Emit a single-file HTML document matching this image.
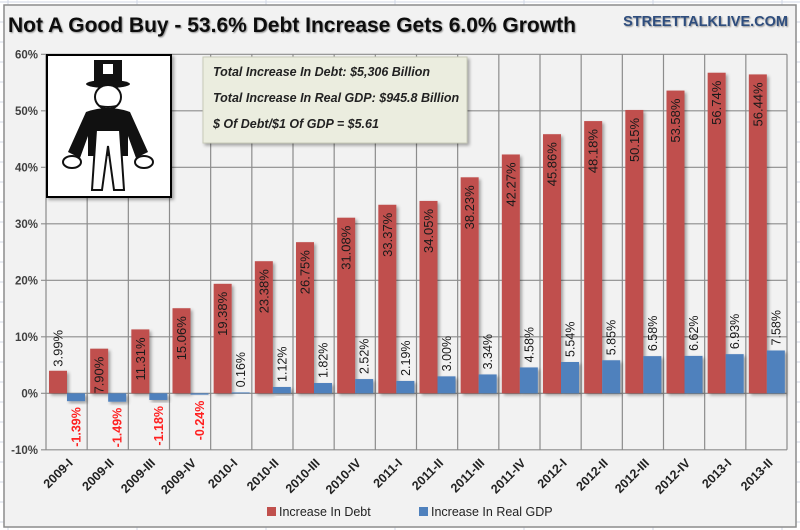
<!DOCTYPE html>
<html><head><meta charset="utf-8"><style>
html,body{margin:0;padding:0;background:#fff;}
svg{display:block;font-family:"Liberation Sans",sans-serif;}
</style></head><body>
<svg id="chart" width="800" height="530" viewBox="0 0 800 530" xmlns="http://www.w3.org/2000/svg">
<defs>
<filter id="sh" x="-20%" y="-20%" width="160%" height="160%"><feDropShadow dx="2" dy="2" stdDeviation="1.5" flood-color="#000" flood-opacity="0.35"/></filter>
<filter id="tsh" x="-10%" y="-10%" width="120%" height="140%"><feDropShadow dx="1" dy="1" stdDeviation="0.8" flood-color="#000" flood-opacity="0.4"/></filter>
</defs>
<g id="sheet"></g>
<rect x="4" y="5" width="792" height="522" fill="#f2f2f2" stroke="#8c8c8c" stroke-width="1.5"/>
<text x="8" y="32" font-size="21" font-weight="bold" fill="#111" filter="url(#tsh)">Not A Good Buy - 53.6% Debt Increase Gets 6.0% Growth</text>
<text x="788" y="26" text-anchor="end" font-size="14.5" font-weight="bold" fill="#2f4d7d" filter="url(#tsh)">STREETTALKLIVE.COM</text>
<g id="grid"></g>
<g id="yaxis"></g>
<g id="bars"></g>
<g id="labels"></g>
<g id="xaxis"></g>
<g>
<rect x="47" y="55" width="124" height="142" fill="#fff" stroke="#000" stroke-width="2" filter="url(#sh)"/>
<rect x="94" y="60" width="28" height="24" fill="#111"/><rect x="103" y="64" width="10" height="10" fill="#fff"/>
<ellipse cx="108" cy="84" rx="22" ry="4" fill="#111"/>
<ellipse cx="108" cy="97" rx="13" ry="12" fill="#fff" stroke="#111" stroke-width="2"/>
<path d="M96 104 q12 8 24 0 q-12 4 -24 0z" fill="#111"/>
<path d="M86 112 q22 -8 44 0 l18 40 l-12 6 l-8 -22 l0 20 l-40 0 l0 -20 l-8 22 l-12 -6z" fill="#111"/>
<path d="M96 130 l24 0 l4 60 l-10 0 l-6 -44 l-6 44 l-10 0z" fill="#fff" stroke="#111" stroke-width="2"/>
<ellipse cx="72" cy="162" rx="9" ry="6" fill="#fff" stroke="#111" stroke-width="2"/>
<ellipse cx="144" cy="162" rx="9" ry="6" fill="#fff" stroke="#111" stroke-width="2"/>
</g>
<g>
<rect x="203" y="57" width="264" height="86" fill="#ebeddf" stroke="#c8cbb8" filter="url(#sh)"/>
<g font-size="12.5" font-weight="bold" font-style="italic" fill="#222">
<text x="213" y="76">Total Increase In Debt:  $5,306 Billion</text>
<text x="213" y="102">Total Increase In Real GDP:  $945.8 Billion</text>
<text x="213" y="128">$ Of Debt/$1 Of GDP = $5.61</text>
</g></g>
<g>
<rect x="267" y="507" width="9" height="9" fill="#c0504d"/>
<text x="279" y="516" font-size="12.5" fill="#222">Increase In Debt</text>
<rect x="419" y="507" width="9" height="9" fill="#4f81bd"/>
<text x="431" y="516" font-size="12.5" fill="#222">Increase In Real GDP</text>
</g>
</svg>
<script>
const categories = ["2009-I","2009-II","2009-III","2009-IV","2010-I","2010-II","2010-III","2010-IV","2011-I","2011-II","2011-III","2011-IV","2012-I","2012-II","2012-III","2012-IV","2013-I","2013-II"];
const debtValues = [3.99,7.90,11.31,15.06,19.38,23.38,26.75,31.08,33.37,34.05,38.23,42.27,45.86,48.18,50.15,53.58,56.74,56.44];
const gdpValues = [-1.39,-1.49,-1.18,-0.24,0.16,1.12,1.82,2.52,2.19,3.00,3.34,4.58,5.54,5.85,6.58,6.62,6.93,7.58];
const yTicks = [-10,0,10,20,30,40,50,60];

const NS = "http://www.w3.org/2000/svg";
const X0 = 46, X1 = 787, Y0 = 393.3, PX = 5.65;
const cw = (X1 - X0) / categories.length;
function y(v){ return Y0 - v * PX; }
function xc(i){ return X0 + i * cw; }
function mk(tag, attrs, parent, txt){
  const e = document.createElementNS(NS, tag);
  for (const k in attrs) e.setAttribute(k, attrs[k]);
  if (txt !== undefined) e.textContent = txt;
  parent.appendChild(e); return e;
}
const sheet = document.getElementById('sheet');
for (let gx = 8; gx < 800; gx += 129) { mk('line',{x1:gx,y1:0,x2:gx,y2:530,stroke:'#d0d7e5'},sheet); }
for (let gy = 2; gy < 530; gy += 20) { mk('line',{x1:0,y1:gy,x2:800,y2:gy,stroke:'#d0d7e5'},sheet); }
const grid = document.getElementById('grid');
yTicks.forEach(t => {
  const l = mk('line',{x1:X0-5,y1:y(t),x2:X1,y2:y(t),stroke:'#8c8c8c','stroke-width':1.2},grid);
  
  
});
for (let i = 0; i <= categories.length; i++) {
  const l = mk('line',{x1:xc(i),y1:y(60),x2:xc(i),y2:y(-10),stroke:'#8c8c8c','stroke-width':1.2},grid);
  
  
}
const ya = document.getElementById('yaxis');
yTicks.forEach(t => {
  const e = mk('text',{x:X0-8,y:y(t)+4,'text-anchor':'end','font-size':11.5,'font-weight':'bold',fill:'#404040'},ya,t+'%');
  
  
});
const bars = document.getElementById('bars'), labs = document.getElementById('labels'), xa = document.getElementById('xaxis');
const bw = 18;
categories.forEach((c, i) => {
  const dx = xc(i) + 3, gx = dx + bw;
  const dv = debtValues[i], gv = gdpValues[i];
  const db = mk('rect',{x:dx,y:Math.min(y(dv),Y0),width:bw,height:Math.abs(y(dv)-Y0),fill:'#c0504d',filter:'url(#sh)'},bars);
  
  
  const gb = mk('rect',{x:gx,y:Math.min(y(gv),Y0),width:bw,height:Math.max(1,Math.abs(y(gv)-Y0)),fill:'#4f81bd',filter:'url(#sh)'},bars);
  
  
  const dcx = dx + bw/2 + 4.5;
  const top = y(dv);
  let dl;
  if (Y0 - top > 38) {
    dl = mk('text',{transform:`translate(${dcx},${top+8}) rotate(-90)`,'text-anchor':'end','font-size':13,fill:'#1a1a1a'},labs,dv.toFixed(2)+'%');
  } else {
    dl = mk('text',{transform:`translate(${dcx},${top-4}) rotate(-90)`,'text-anchor':'start','font-size':13,fill:'#1a1a1a'},labs,dv.toFixed(2)+'%');
  }
  
  
  const gcx = gx + bw/2 + 4.5;
  let gl;
  if (gv >= 0) {
    gl = mk('text',{transform:`translate(${gcx},${y(gv)-5}) rotate(-90)`,'text-anchor':'start','font-size':12.5,fill:'#1a1a1a'},labs,gv.toFixed(2)+'%');
  } else {
    gl = mk('text',{transform:`translate(${gcx},${y(gv)+6}) rotate(-90)`,'text-anchor':'end','font-size':12.5,'font-weight':'bold',fill:'#ff2020'},labs,gv.toFixed(2)+'%');
  }
  
  
  const xl = mk('text',{transform:`translate(${xc(i)+cw/2+7},${y(-10)+14}) rotate(-45)`,'text-anchor':'end','font-size':12.5,'font-weight':'bold',fill:'#222'},xa,c);
  
  
});
</script>
</body></html>
